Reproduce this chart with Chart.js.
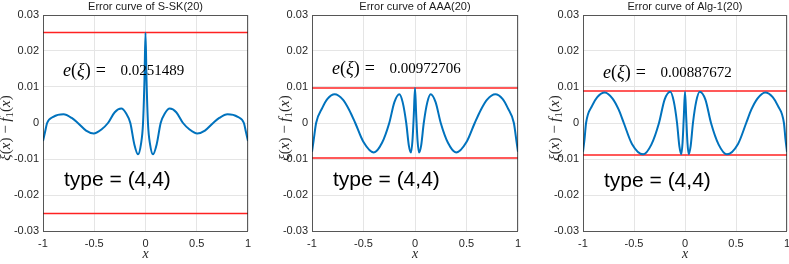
<!DOCTYPE html>
<html><head><meta charset="utf-8">
<script src="https://cdn.jsdelivr.net/npm/chart.js@4.4.0/dist/chart.umd.min.js"></script>
<style>
html,body{margin:0;padding:0;background:#fff;overflow:hidden;width:789px;height:264px;}
canvas{position:absolute;left:0;top:0;}
</style></head><body>
<canvas id="c0" width="800" height="264" style="width:800px;height:264px"></canvas>
<canvas id="c1" width="800" height="264" style="width:800px;height:264px"></canvas>
<canvas id="c2" width="800" height="264" style="width:800px;height:264px"></canvas>
<script>
// ---- data ----
const titles = ['Error curve of S-SK(20)', 'Error curve of AAA(20)', 'Error curve of Alg-1(20)'];
const errValues = [0.0251489, 0.00972706, 0.00887672];
const errTexts = ['0.0251489', '0.00972706', '0.00887672'];
const typeTexts = ['type = (4,4)', 'type = (4,4)', 'type = (4,4)'];
const xTickLabels = ['-1', '-0.5', '0', '0.5', '1'];
const yTickLabels = ['-0.03', '-0.02', '-0.01', '0', '0.01', '0.02', '0.03'];

const sskX = [-1,-0.98,-0.96,-0.9,-0.8,-0.72,-0.66,-0.58,-0.505,-0.43,-0.366,-0.3,-0.236,-0.19,-0.148,-0.11,-0.073,-0.045,-0.024,-0.01,0,
              0.01,0.024,0.045,0.073,0.11,0.148,0.19,0.236,0.3,0.366,0.43,0.505,0.58,0.66,0.72,0.8,0.9,0.96,0.98,1];
const sskY = [-0.0050,-0.0025,0,0.0017,0.0024,0.0014,0,-0.0021,-0.0029,-0.0018,0,0.0030,0.0040,0.0027,0,-0.0058,-0.0087,-0.0060,0,0.0120,0.0251,
              0.0120,0,-0.0060,-0.0087,-0.0058,0,0.0027,0.0040,0.0030,0,-0.0018,-0.0029,-0.0021,0,0.0014,0.0024,0.0017,0,-0.0025,-0.0050];

const aaaX = [-1,-0.985,-0.96,-0.90,-0.85,-0.78,-0.70,-0.64,-0.58,-0.50,-0.40,-0.32,-0.25,-0.2,-0.152,-0.12,-0.085,-0.06,-0.039,-0.025,-0.012,0,
              0.012,0.025,0.039,0.06,0.085,0.12,0.152,0.2,0.25,0.32,0.40,0.50,0.58,0.64,0.70,0.78,0.85,0.90,0.96,0.985,1];
const aaaY = [-0.0080,-0.0050,0,0.0042,0.0067,0.0080,0.0065,0.0037,0,-0.0053,-0.0082,-0.0055,0,0.0058,0.0080,0.0058,0,-0.0062,-0.0082,-0.0050,0.0020,0.0097,
              0.0020,-0.0050,-0.0082,-0.0062,0,0.0058,0.0080,0.0058,0,-0.0055,-0.0082,-0.0053,0,0.0037,0.0065,0.0080,0.0067,0.0042,0,-0.0050,-0.0080];

const algX = [-1,-0.985,-0.97,-0.91,-0.86,-0.787,-0.71,-0.65,-0.60,-0.52,-0.41,-0.33,-0.255,-0.2,-0.144,-0.11,-0.078,-0.055,-0.036,-0.024,-0.012,0,
              0.012,0.024,0.036,0.055,0.078,0.11,0.144,0.2,0.255,0.33,0.41,0.52,0.60,0.65,0.71,0.787,0.86,0.91,0.97,0.985,1];
const algY = [-0.0080,-0.0045,0,0.0048,0.0072,0.0085,0.0068,0.0037,0,-0.0058,-0.0087,-0.0060,0,0.0065,0.0087,0.0060,0,-0.0065,-0.0087,-0.0055,0.0015,0.0087,
              0.0015,-0.0055,-0.0087,-0.0065,0,0.0060,0.0087,0.0065,0,-0.0060,-0.0087,-0.0058,0,0.0037,0.0068,0.0085,0.0072,0.0048,0,-0.0045,-0.0080];

const seriesX = [sskX, aaaX, algX];
const seriesY = [sskY, aaaY, algY];

// ---- layout (plot-area edges in px) ----
const plotLeft = [43, 312, 583];
const plotRight = [248, 518, 787];
const yLabelX = [6, 285, 555];
const eTextY = [71, 69, 73];
const typeTextY = [180, 180, 181];

const SERIF = '"Liberation Serif", "DejaVu Serif", serif';
const SANS = '"Liberation Sans", Arial, Helvetica, sans-serif';

function drawRich(ctx, pieces, x, y, size, align) {
  let widths = pieces.map(p => {
    ctx.font = (p.i ? 'italic ' : '') + (p.sub ? Math.round(size*0.7) : size) + 'px ' + SERIF;
    return ctx.measureText(p.t).width + (p.gap || 0);
  });
  let total = widths.reduce((a,b)=>a+b,0);
  let cx = align === 'center' ? x - total/2 : x;
  pieces.forEach((p, k) => {
    ctx.font = (p.i ? 'italic ' : '') + (p.sub ? Math.round(size*0.7) : size) + 'px ' + SERIF;
    ctx.fillText(p.t, cx + (p.gap || 0), y + (p.sub ? size*0.25 : 0));
    cx += widths[k];
  });
}

function makeChart(k) {
  const pts = seriesX[k].map((x, j) => ({x: x, y: seriesY[k][j]}));
  const e = errValues[k];
  const decor = {
    id: 'decor' + k,
    afterDraw(chart) {
      const ctx = chart.ctx, a = chart.chartArea;
      ctx.save();
      ctx.strokeStyle = 'rgba(38,38,38,0.75)';
      ctx.lineWidth = 1;
      ctx.strokeRect(Math.round(a.left)+0.5, Math.round(a.top)+0.5, Math.round(a.right-a.left)-1, Math.round(a.bottom-a.top));
      ctx.fillStyle = '#1a1a1a';
      ctx.textBaseline = 'middle';
      ctx.textAlign = 'center';
      ctx.font = '11px ' + SANS;
      ctx.fillText(titles[k], (a.left + a.right)/2, 7);
      ctx.textAlign = 'left';
      // e(xi) annotation
      const ex = a.left + 20;
      ctx.fillStyle = '#000';
      drawRich(ctx, [{t:'e', i:true},{t:'('},{t:'ξ', i:true},{t:')'},{t:'=', gap:5}], ex, eTextY[k], 18, 'left');
      ctx.font = '15px ' + SERIF;
      ctx.fillText(errTexts[k], a.left + 77.5, eTextY[k]);
      // type annotation
      ctx.font = '21px ' + SANS;
      ctx.fillText(typeTexts[k], a.left + 21, typeTextY[k]);
      // x axis title
      ctx.fillStyle = '#262626';
      drawRich(ctx, [{t:'x', i:true}], (a.left + a.right)/2, 254, 14, 'center');
      // y axis title (rotated)
      ctx.save();
      ctx.translate(yLabelX[k], (a.top + a.bottom)/2 + 5);
      ctx.rotate(-Math.PI/2);
      drawRich(ctx, [{t:'ξ', i:true},{t:'('},{t:'x', i:true},{t:') − '},{t:'f', i:true},{t:'1', sub:true},{t:'('},{t:'x', i:true},{t:')'}], 0, 0, 15, 'center');
      ctx.restore();
      ctx.restore();
    }
  };
  return new Chart(document.getElementById('c' + k), {
    type: 'line',
    data: {
      datasets: [
        {data: pts, borderColor: '#0072BD', borderWidth: 2, pointRadius: 0, cubicInterpolationMode: 'monotone', fill: false},
        {data: [{x:-1, y:e},{x:1, y:e}], borderColor: '#F22', borderWidth: 1.6, pointRadius: 0, fill: false},
        {data: [{x:-1, y:-e},{x:1, y:-e}], borderColor: '#F22', borderWidth: 1.6, pointRadius: 0, fill: false}
      ]
    },
    options: {
      responsive: false,
      animation: false,
      devicePixelRatio: 1,
      layout: {padding: {left: plotLeft[k] - 40, right: 800 - plotRight[k], top: 15, bottom: 0}},
      plugins: {legend: {display: false}, tooltip: {enabled: false}, title: {display: false}},
      scales: {
        x: {
          type: 'linear', min: -1, max: 1,
          afterFit(s) { s.height = 33; },
          border: {display: false},
          grid: {color: '#e5e5e5', drawTicks: false, lineWidth: 1},
          ticks: {stepSize: 0.5, padding: 6, color: '#262626', font: {family: SANS, size: 11}, maxRotation: 0,
                  callback: v => xTickLabels[Math.round((v + 1) * 2)]}
        },
        y: {
          type: 'linear', min: -0.03, max: 0.03,
          afterFit(s) { s.width = 40; },
          border: {display: false},
          grid: {color: '#e5e5e5', drawTicks: false, lineWidth: 1},
          ticks: {stepSize: 0.01, padding: 4, color: '#262626', font: {family: SANS, size: 11},
                  callback: v => yTickLabels[Math.round(v * 100) + 3]}
        }
      }
    },
    plugins: [decor]
  });
}
[0,1,2].forEach(makeChart);
</script>
</body></html>
